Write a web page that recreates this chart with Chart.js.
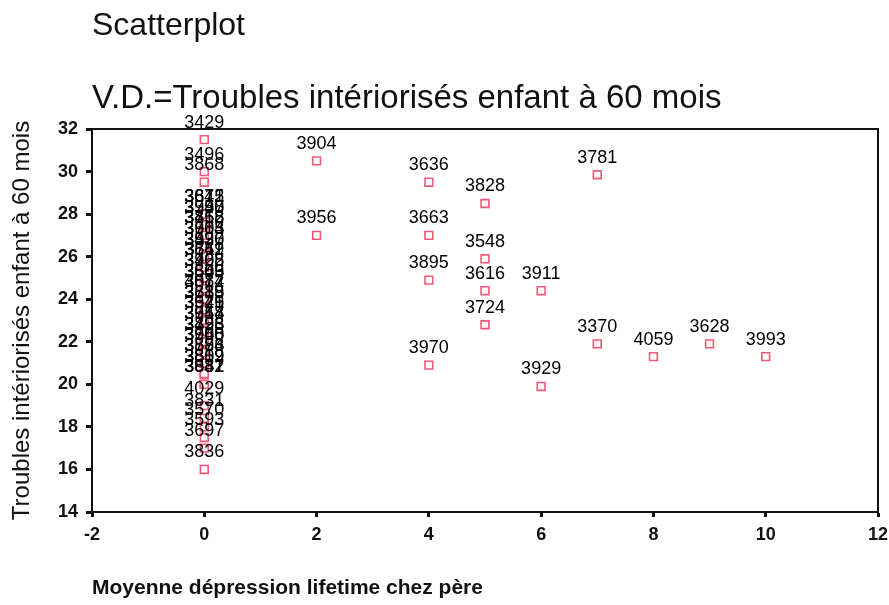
<!DOCTYPE html>
<html>
<head>
<meta charset="utf-8">
<script src="https://cdn.jsdelivr.net/npm/chart.js@4"></script>
<style>
  html, body { margin: 0; padding: 0; background: #fff; }
  canvas { display: block; }
</style>
</head>
<body>
<canvas id="scatter" width="889" height="605"></canvas>
<script>
// numéros de cas (étiquettes des points)
const caseIds = [
  3429, 3496, 3868,
  3672, 3815, 3641, 3748, 3590, 3957, 3862, 3455, 3718, 3913, 3604, 3785,
  3537, 3990, 3426, 3711, 3842, 3669, 3468, 3925, 3702, 3659, 3806, 3543,
  3574, 4012, 3887, 3738, 3889, 3615, 3521, 3946, 3679, 3744, 3617, 3958,
  3853, 3498, 3726, 3760, 3908, 3645, 3583, 3876, 3794, 3809, 3859, 3512,
  3832, 3941, 3687,
  4029, 3831, 3570, 3593, 3697, 3836,
  3904, 3956, 3636, 3663, 3895, 3970, 3828, 3548, 3616, 3724,
  3911, 3929, 3781, 3370, 4059, 3628, 3993
];
// Moyenne dépression lifetime chez père
const fatherDepression = [
  0, 0, 0,
  0, 0, 0, 0, 0, 0, 0, 0, 0, 0, 0, 0,
  0, 0, 0, 0, 0, 0, 0, 0, 0, 0, 0, 0,
  0, 0, 0, 0, 0, 0, 0, 0, 0, 0, 0, 0,
  0, 0, 0, 0, 0, 0, 0, 0, 0, 0, 0, 0,
  0, 0, 0,
  0, 0, 0, 0, 0, 0,
  2, 2, 4, 4, 4, 4, 5, 5, 5, 5,
  6, 6, 7, 7, 8, 9, 10
];
// Troubles intériorisés enfant à 60 mois
const childProblems = [
  31.5, 30, 29.5,
  28, 28, 28, 27.5, 27.5, 27.5, 27, 27, 27, 26.5, 26.5, 26.5,
  26, 26, 26, 25.5, 25.5, 25.5, 25, 25, 25, 24.5, 24.5, 24.5,
  24, 24, 24, 23.5, 23.5, 23.5, 23, 23, 23, 22.5, 22.5, 22.5,
  22, 22, 22, 21.5, 21.5, 21.5, 21, 21, 21, 20.5, 20.5, 20.5,
  20, 20, 20,
  19, 18.4, 18, 17.5, 17, 16,
  30.5, 27, 29.5, 27, 24.9, 20.9, 28.5, 25.9, 24.4, 22.8,
  24.4, 19.9, 29.85, 21.9, 21.3, 21.9, 21.3
];
const xTicks = [-2, 0, 2, 4, 6, 8, 10, 12];
const yTicks = [14, 16, 18, 20, 22, 24, 26, 28, 30, 32];

const FONT = "'Liberation Sans', Arial, sans-serif";
const INK = '#111';

const points = caseIds.map((id, i) => ({ x: fatherDepression[i], y: childProblems[i] }));

// étiquettes au-dessus des points
const caseLabels = {
  id: 'caseLabels',
  afterDatasetsDraw(chart) {
    const ctx = chart.ctx;
    const meta = chart.getDatasetMeta(0);
    ctx.save();
    ctx.font = '18px ' + FONT;
    ctx.fillStyle = '#000';
    ctx.textAlign = 'center';
    ctx.textBaseline = 'middle';
    meta.data.forEach((el, i) => {
      ctx.fillText(String(caseIds[i]), el.x, el.y - 17);
    });
    ctx.restore();
  }
};

// cadre autour de la zone du graphique
const frame = {
  id: 'frame',
  afterDraw(chart) {
    const a = chart.chartArea;
    const ctx = chart.ctx;
    ctx.save();
    ctx.strokeStyle = INK;
    ctx.lineWidth = 2;
    ctx.strokeRect(a.left, a.top, a.right - a.left, a.bottom - a.top);
    ctx.restore();
  }
};

new Chart(document.getElementById('scatter'), {
  type: 'scatter',
  data: {
    datasets: [{
      data: points,
      pointStyle: 'rect',
      pointRadius: 5.5,
      pointHoverRadius: 5.5,
      borderColor: '#ee5a74',
      backgroundColor: '#fff',
      borderWidth: 1.6
    }]
  },
  options: {
    responsive: false,
    animation: false,
    events: [],
    layout: { padding: { top: 0, right: 11, bottom: 0, left: 0 } },
    plugins: {
      legend: { display: false },
      tooltip: { enabled: false },
      title: {
        display: true,
        text: 'Scatterplot',
        align: 'start',
        fullSize: false,
        color: INK,
        font: { family: FONT, size: 32, weight: 'normal', lineHeight: 1.2 },
        padding: { top: 7, bottom: 18 }
      },
      subtitle: {
        display: true,
        text: 'V.D.=Troubles intériorisés enfant à 60 mois',
        align: 'start',
        fullSize: false,
        color: INK,
        font: { family: FONT, size: 33, weight: 'normal', lineHeight: 1.2 },
        padding: { top: 16, bottom: 10 }
      }
    },
    scales: {
      x: {
        type: 'linear',
        min: -2,
        max: 12,
        afterFit: s => { s.height = 93; s.paddingLeft = 0; s.paddingRight = 0; },
        afterBuildTicks: s => { s.ticks = xTicks.map(v => ({ value: v })); },
        ticks: { color: INK, padding: 7, font: { family: FONT, size: 18, weight: 'bold' } },
        grid: { display: true, drawOnChartArea: false, drawTicks: true, tickLength: 5, tickWidth: 3, color: INK },
        border: { display: true, color: INK, width: 2 },
        title: {
          display: true,
          text: 'Moyenne dépression lifetime chez père',
          align: 'start',
          color: INK,
          font: { family: FONT, size: 21, weight: 'bold', lineHeight: 1.2 },
          padding: { top: 0, bottom: 4 }
        }
      },
      y: {
        type: 'linear',
        min: 14,
        max: 32,
        afterFit: s => { s.width = 92; s.paddingTop = 0; s.paddingBottom = 0; },
        afterBuildTicks: s => { s.ticks = yTicks.map(v => ({ value: v })); },
        ticks: { color: INK, padding: 8, font: { family: FONT, size: 18, weight: 'bold' } },
        grid: { display: true, drawOnChartArea: false, drawTicks: true, tickLength: 6, tickWidth: 3, color: INK },
        border: { display: true, color: INK, width: 2 },
        title: {
          display: true,
          text: 'Troubles intériorisés enfant à 60 mois',
          color: INK,
          font: { family: FONT, size: 24, weight: 'normal', lineHeight: 1.2 },
          padding: { top: 8, bottom: 0 }
        }
      }
    }
  },
  plugins: [caseLabels, frame]
});
</script>
</body>
</html>
